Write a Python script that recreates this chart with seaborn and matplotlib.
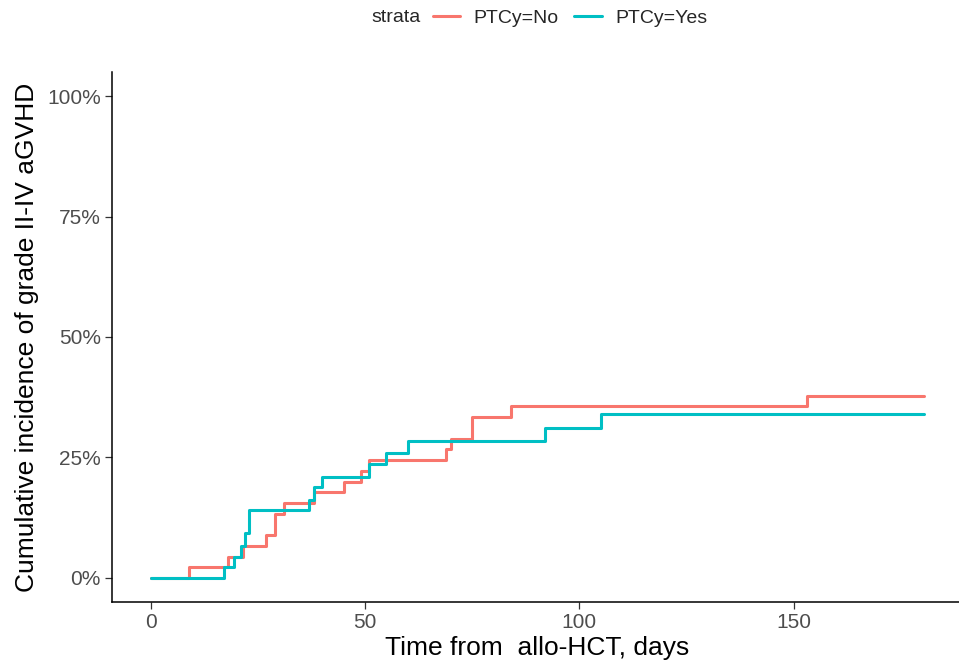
import matplotlib
matplotlib.use('Agg')
import numpy as np
import pandas as pd
import seaborn as sns
import matplotlib.pyplot as plt
from matplotlib.ticker import PercentFormatter
from matplotlib.lines import Line2D

# cumulative incidence (step functions)
no_days = [0, 9, 18, 21.5, 27, 29, 31, 38, 45, 49, 51, 69, 70, 75, 84, 153, 180.5]
no_cuminc = [0, .022, .044, .067, .089, .133, .156, .178, .200, .222, .244,
             .267, .289, .333, .356, .378, .378]
yes_days = [0, 17, 19.5, 21, 22, 23, 37, 38, 40, 51, 55, 60, 92, 105, 180.5]
yes_cuminc = [0, .022, .044, .066, .093, .140, .162, .188, .210, .236, .259,
              .285, .312, .340, .340]

strata = ['PTCy=No', 'PTCy=Yes']
colors = ['#F8766D', '#00BFC4']
y_ticks = [0, .25, .5, .75, 1.0]
x_ticks = [0, 50, 100, 150]

df = pd.concat([
    pd.DataFrame({'time': no_days, 'cuminc': no_cuminc, 'strata': strata[0]}),
    pd.DataFrame({'time': yes_days, 'cuminc': yes_cuminc, 'strata': strata[1]}),
], ignore_index=True)

sns.set_style('white')
plt.rcParams['font.family'] = ['Liberation Sans', 'DejaVu Sans']

fig = plt.figure(figsize=(9.59, 6.69), dpi=100)
ax = fig.add_axes([112 / 959, 1 - 602 / 669, (963 - 112) / 959, (602 - 72) / 669])

sns.lineplot(data=df, x='time', y='cuminc', hue='strata', palette=colors,
             hue_order=strata, drawstyle='steps-post', estimator=None,
             linewidth=2.2, legend=False, ax=ax)

ax.set_xlim(-9.03, 189.5)
ax.set_ylim(-0.05, 1.05)
ax.set_xticks(x_ticks)
ax.set_yticks(y_ticks)
ax.yaxis.set_major_formatter(PercentFormatter(1.0, decimals=0))

sns.despine(ax=ax)
for s in ['left', 'bottom']:
    ax.spines[s].set_color('black')
    ax.spines[s].set_linewidth(1.1)
ax.tick_params(axis='both', length=5, width=0.9, color='#333333',
               labelsize=15, labelcolor='#4D4D4D', pad=3, left=True, bottom=True)

ax.set_xlabel('Time from  allo-HCT, days', fontsize=19, color='black', labelpad=3)
ax.set_ylabel('Cumulative incidence of grade II-IV aGVHD', fontsize=19,
              color='black', labelpad=6)

# legend on top, title inline like ggplot
fig.text(396 / 959, 1 - 18 / 669, 'strata', fontsize=14, ha='center', va='center')
handles = [Line2D([], [], color=c, lw=2.2) for c in colors]
fig.legend(handles, strata, ncol=2, loc='center', frameon=False, fontsize=14,
           bbox_to_anchor=(570 / 959, 1 - 18 / 669), handlelength=1.4,
           handletextpad=0.7, columnspacing=0.8, borderpad=0)

fig.savefig('out.png', dpi=100)
